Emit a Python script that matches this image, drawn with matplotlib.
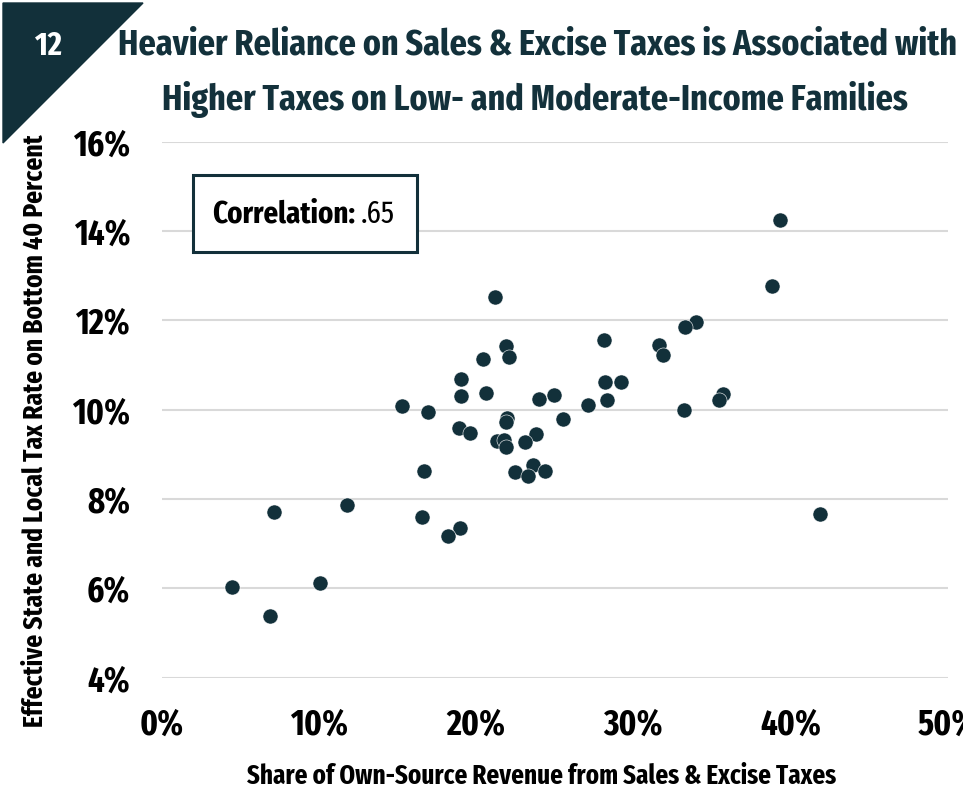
import numpy as np
import matplotlib.pyplot as plt
from matplotlib.patches import Polygon, Rectangle

plt.rcParams['font.family'] = ['Fira Sans Extra Condensed', 'DejaVu Sans']

# share of own-source revenue from sales & excise taxes (%)
sales_share = [21.2, 21.86, 22.07, 20.41, 19.03, 19.01, 20.6, 15.3, 16.93, 24.0,
               28.14, 31.64, 31.89, 28.22, 29.18, 28.33, 24.93, 27.12, 33.19, 21.95,
               21.86, 25.51, 18.93, 19.57, 23.83, 21.33, 21.76, 21.86, 23.07, 16.68,
               22.47, 23.64, 23.32, 24.4, 16.55, 7.13, 11.76, 18.95, 18.17, 4.48,
               10.04, 6.9, 39.32, 38.83, 33.97, 33.27, 35.71, 35.46, 41.85]
# effective state & local tax rate on bottom 40 percent (%)
tax_rate = [12.52, 11.43, 11.19, 11.13, 10.69, 10.31, 10.38, 10.08, 9.95, 10.23,
            11.55, 11.45, 11.22, 10.62, 10.62, 10.22, 10.32, 10.10, 9.99, 9.81,
            9.73, 9.80, 9.60, 9.47, 9.46, 9.31, 9.32, 9.16, 9.28, 8.63,
            8.60, 8.76, 8.52, 8.63, 7.60, 7.71, 7.87, 7.36, 7.18, 6.04,
            6.12, 5.38, 14.24, 12.78, 11.96, 11.85, 10.35, 10.22, 7.66]

xticks = [0, 10, 20, 30, 40, 50]
yticks = [4, 6, 8, 10, 12, 14, 16]

teal = '#12303a'
W, H = 963, 792

def fx(px):
    return px / W

def fy(py):
    return 1 - py / H

fig = plt.figure(figsize=(9.63, 7.92), dpi=100)
r = fig.canvas.get_renderer()

def fit(t, width_px):
    # scale font size so the text spans the width seen in the picture
    w = t.get_window_extent(renderer=r).width
    t.set_fontsize(t.get_fontsize() * width_px / w)
    return t

ax = fig.add_axes([fx(162), fy(677.7), fx(947.7) - fx(162), fy(141.7) - fy(677.7)])

ax.scatter(sales_share, tax_rate, s=118, color=teal, edgecolors='white',
           linewidths=0.4, zorder=3)

ax.set_xlim(0, 50)
ax.set_ylim(4, 16)
ax.set_xticks(xticks)
ax.set_yticks(yticks)
ax.set_xticklabels([f'{t}%' for t in xticks])
ax.set_yticklabels([f'{t}%' for t in yticks])

# tick label size from width of "16%" (about 56 px)
probe = fig.text(0, 0, '16%', fontsize=20, fontweight='bold')
fit(probe, 57)
tick_fs = probe.get_fontsize()
probe.remove()

ax.tick_params(length=0, labelsize=tick_fs)
ax.tick_params(axis='x', pad=21)
ax.tick_params(axis='y', pad=23)
for lab in ax.get_xticklabels() + ax.get_yticklabels():
    lab.set_fontweight('bold')
for lab in ax.get_xticklabels():
    lab.set_clip_on(False)
ax.grid(axis='y', color='#d9d9d9', linewidth=1.5)
ax.set_axisbelow(True)
for sp in ax.spines.values():
    sp.set_visible(False)

# title block
tri = Polygon([[fx(3), fy(3)], [fx(143), fy(3)], [fx(3), fy(143)]],
              closed=True, transform=fig.transFigure, color=teal, zorder=5)
fig.patches.append(tri)
num = fig.text(fx(48.5), fy(46), '12', color='white', fontsize=20, fontweight='bold',
               ha='center', va='center', zorder=6)
fit(num, 27)
t1 = fig.text(fx(537), fy(45), 'Heavier Reliance on Sales & Excise Taxes is Associated with',
              color='#13313b', fontsize=26, fontweight='bold', ha='center', va='center')
fit(t1, 838)
t2 = fig.text(fx(535), fy(99), 'Higher Taxes on Low- and Moderate-Income Families',
              color='#13313b', fontsize=26, fontweight='bold', ha='center', va='center')
t2.set_fontsize(t1.get_fontsize())

# axis labels
xl = fig.text(fx(542), fy(776), 'Share of Own-Source Revenue from Sales & Excise Taxes',
              fontsize=17, fontweight='bold', ha='center', va='center')
fit(xl, 588)
yl = fig.text(fx(35), fy(431), 'Effective State and Local Tax Rate on Bottom 40 Percent',
              fontsize=17, fontweight='bold', ha='center', va='center', rotation=90)
w = yl.get_window_extent(renderer=r).height
yl.set_fontsize(yl.get_fontsize() * 593 / w)

# correlation box
box = Rectangle((fx(193), fy(252)), fx(417) - fx(193), fy(175) - fy(252),
                transform=fig.transFigure, facecolor='white', edgecolor=teal,
                linewidth=2.2, zorder=4)
fig.patches.append(box)
c1 = fig.text(fx(212), fy(214), 'Correlation:', fontsize=20, fontweight='bold',
              ha='left', va='center', zorder=5)
fit(c1, 144)
bb = c1.get_window_extent(renderer=r)
fig.text(fx(bb.x1 + 6), fy(214), '.65', fontsize=c1.get_fontsize(), ha='left',
         va='center', zorder=5)

fig.savefig('out.png', dpi=100)
